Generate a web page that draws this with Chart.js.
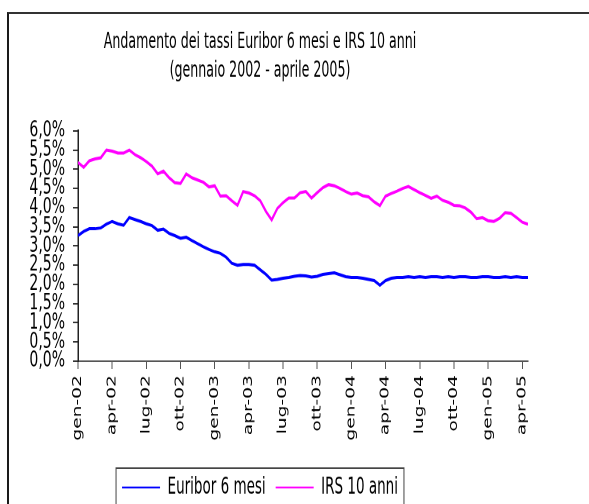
<!DOCTYPE html>
<html>
<head>
<meta charset="utf-8">
<script src="https://cdn.jsdelivr.net/npm/chart.js@4"></script>
<style>
  html, body { margin: 0; padding: 0; background: #fff; overflow: hidden; }
  body { width: 589px; height: 504px; position: relative; }
  #frame { position: absolute; left: 7px; top: 12px; width: 700px; height: 700px;
           border-left: 2px solid #1a1a1a; border-top: 2px solid #333; }
  /* the reference is stretched vertically, so the whole chart is too */
  #wrap { position: absolute; left: -8px; top: 0; width: 600px; height: 332px;
          transform: scaleY(1.55); transform-origin: 0 0; }
</style>
</head>
<body>
<div id="frame"></div>
<div id="wrap"><canvas id="myChart"></canvas></div>
<script>
// months since gen-02, every half month
const months = [0, 0.5, 1, 1.5, 2, 2.5, 3, 3.5, 4, 4.5, 5, 5.5, 6, 6.5, 7, 7.5, 8, 8.5, 9, 9.5,
    10, 10.5, 11, 11.5, 12, 12.5, 13, 13.5, 14, 14.5, 15, 15.5, 16, 16.5, 17, 17.5, 18, 18.5, 19, 19.5,
    20, 20.5, 21, 21.5, 22, 22.5, 23, 23.5, 24, 24.5, 25, 25.5, 26, 26.5, 27, 27.5, 28, 28.5, 29, 29.5,
    30, 30.5, 31, 31.5, 32, 32.5, 33, 33.5, 34, 34.5, 35, 35.5, 36, 36.5, 37, 37.5, 38, 38.5, 39, 39.5];

const euribor = [3.27, 3.38, 3.45, 3.45, 3.47, 3.57, 3.64, 3.58, 3.54, 3.74,
    3.69, 3.64, 3.58, 3.53, 3.41, 3.44, 3.33, 3.27, 3.20, 3.23,
    3.14, 3.06, 2.98, 2.91, 2.85, 2.81, 2.71, 2.55, 2.50, 2.52,
    2.52, 2.50, 2.38, 2.26, 2.11, 2.13, 2.16, 2.18, 2.21, 2.23,
    2.22, 2.19, 2.21, 2.26, 2.28, 2.30, 2.25, 2.20, 2.18, 2.18,
    2.16, 2.13, 2.10, 1.98, 2.10, 2.16, 2.18, 2.18, 2.20, 2.18,
    2.20, 2.18, 2.20, 2.20, 2.18, 2.20, 2.18, 2.20, 2.20, 2.18,
    2.18, 2.20, 2.20, 2.18, 2.18, 2.20, 2.18, 2.20, 2.18, 2.18];

const irs = [5.18, 5.05, 5.22, 5.27, 5.30, 5.50, 5.47, 5.42, 5.42, 5.50,
    5.38, 5.30, 5.20, 5.08, 4.88, 4.95, 4.78, 4.65, 4.63, 4.88,
    4.78, 4.72, 4.66, 4.54, 4.57, 4.30, 4.31, 4.18, 4.06, 4.42,
    4.38, 4.31, 4.18, 3.90, 3.68, 3.98, 4.13, 4.25, 4.25, 4.39,
    4.42, 4.25, 4.39, 4.52, 4.60, 4.57, 4.50, 4.42, 4.35, 4.38,
    4.31, 4.28, 4.15, 4.05, 4.30, 4.37, 4.43, 4.50, 4.55, 4.47,
    4.39, 4.32, 4.24, 4.30, 4.19, 4.14, 4.06, 4.05, 3.99, 3.88,
    3.71, 3.74, 3.66, 3.64, 3.72, 3.87, 3.85, 3.74, 3.62, 3.57];

const tickMonths = [0, 3, 6, 9, 12, 15, 18, 21, 24, 27, 30, 33, 36, 39];
const tickLabels = ['gen-02', 'apr-02', 'lug-02', 'ott-02', 'gen-03', 'apr-03', 'lug-03',
    'ott-03', 'gen-04', 'apr-04', 'lug-04', 'ott-04', 'gen-05', 'apr-05'];

const condensed = "'DejaVu Sans Condensed', 'DejaVu Sans', sans-serif";
const plain = "'DejaVu Sans', Verdana, sans-serif";

// border round the legend, like the excel one
const legendFrame = {
    id: 'legendFrame',
    afterDraw(chart) {
        const boxes = chart.legend.legendHitBoxes;
        if (!boxes || !boxes.length) return;
        const left = Math.min(...boxes.map(b => b.left)) - 6;
        const right = Math.max(...boxes.map(b => b.left + b.width)) + 6;
        const top = boxes[0].top - 5;
        const bottom = boxes[0].top + boxes[0].height + 5;
        const ctx = chart.ctx;
        ctx.save();
        ctx.strokeStyle = '#444';
        ctx.lineWidth = 1;
        ctx.strokeRect(left, top, right - left, bottom - top);
        ctx.restore();
    }
};

const ctx = document.getElementById('myChart').getContext('2d');
const myChart = new Chart(ctx, {
    type: 'line',
    data: {
        labels: months,
        datasets: [
            { label: 'Euribor 6 mesi', data: euribor, borderColor: '#0000ff', backgroundColor: '#0000ff',
              borderWidth: 2, pointRadius: 0, tension: 0, fill: false },
            { label: 'IRS 10 anni', data: irs, borderColor: '#ff00ff', backgroundColor: '#ff00ff',
              borderWidth: 2, pointRadius: 0, tension: 0, fill: false }
        ]
    },
    options: {
        responsive: true,
        maintainAspectRatio: false,
        animation: false,
        devicePixelRatio: 2,
        layout: { padding: { left: 0, right: 64, top: 0, bottom: 0 } },
        plugins: {
            title: {
                display: true,
                text: ['Andamento dei tassi Euribor 6 mesi e IRS 10 anni', '(gennaio 2002 - aprile 2005)'],
                color: '#000',
                font: { family: condensed, size: 14, weight: 'normal', lineHeight: 1.336 },
                padding: { top: 18, bottom: 29 }
            },
            legend: {
                position: 'bottom',
                labels: {
                    usePointStyle: true,
                    pointStyle: 'line',
                    pointStyleWidth: 38,
                    padding: 10,
                    color: '#000',
                    font: { family: condensed, size: 15 },
                    generateLabels: (chart) => {
                        const items = Chart.defaults.plugins.legend.labels.generateLabels(chart);
                        items.forEach(item => { item.lineWidth = 1.2; });
                        return items;
                    }
                }
            },
            tooltip: { enabled: false }
        },
        scales: {
            x: {
                type: 'linear',
                min: 0,
                max: 39.5,
                afterBuildTicks: (scale) => { scale.ticks = tickMonths.map(v => ({ value: v })); },
                afterFit: (scale) => { scale.height = 64; },
                grid: { display: true, drawOnChartArea: false, drawTicks: true, tickLength: 5, color: '#555' },
                border: { display: true, color: '#555', width: 1 },
                ticks: {
                    autoSkip: false,
                    minRotation: 90,
                    maxRotation: 90,
                    padding: 4,
                    color: '#000',
                    font: { family: plain, size: 12 },
                    callback: (v) => tickLabels[tickMonths.indexOf(v)]
                }
            },
            y: {
                min: 0,
                max: 6,
                afterFit: (scale) => { scale.width = 86; },
                grid: { display: true, drawOnChartArea: false, drawTicks: true, tickLength: 5, color: '#333' },
                border: { display: true, color: '#222', width: 1.5 },
                ticks: {
                    stepSize: 0.5,
                    autoSkip: false,
                    padding: 8,
                    color: '#000',
                    font: { family: plain, size: 14 },
                    callback: (v) => v.toFixed(1).replace('.', ',') + '%'
                }
            }
        }
    },
    plugins: [legendFrame]
});
</script>
</body>
</html>
